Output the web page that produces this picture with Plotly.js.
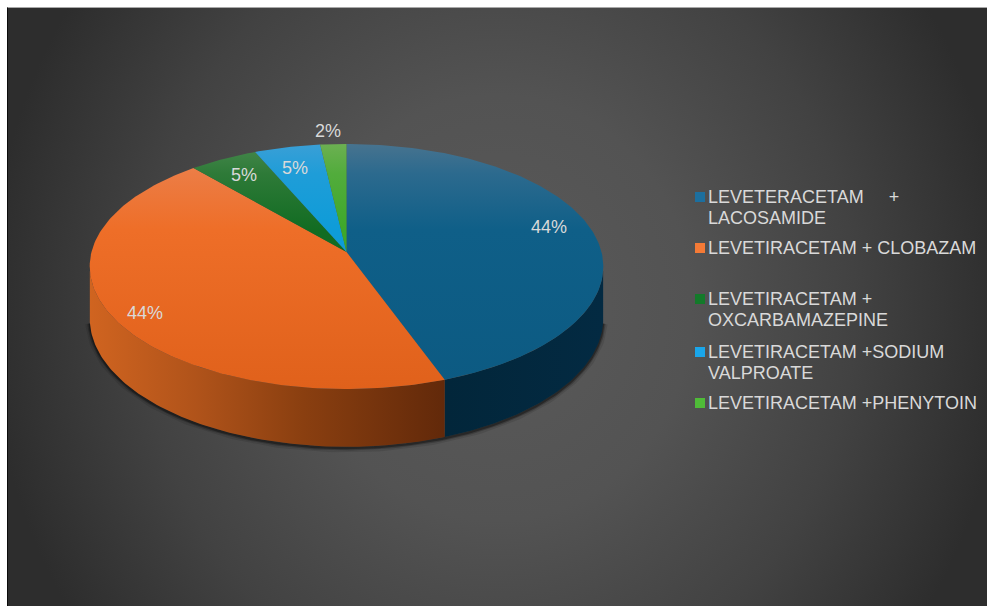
<!DOCTYPE html>
<html>
<head>
<meta charset="utf-8">
<script src="https://cdn.plot.ly/plotly-3.0.1.min.js"></script>
<style>
  html, body { margin: 0; padding: 0; background: #fff; }
  #panel {
    position: absolute; left: 7px; top: 7px; width: 980px; height: 599px;
    box-sizing: border-box;
    border-left: 1px solid #0c0c0c; border-top: 1px solid #a8a8a8;
    background: radial-gradient(ellipse 510px 560px at 490px 300px, #5a5a5a 0%, #535353 38%, #424242 70%, #2d2d2d 100%);
  }
  #chart { position: absolute; left: 0; top: 0; width: 987px; height: 606px; }
</style>
</head>
<body>
<div id="panel"></div>
<div id="chart"></div>
<script>
// Anti-epileptic drug combinations and their share of patients, in percent.
const categories = ['LEVETERACETAM + LACOSAMIDE', 'LEVETIRACETAM + CLOBAZAM', 'LEVETIRACETAM + OXCARBAMAZEPINE', 'LEVETIRACETAM +SODIUM VALPROATE', 'LEVETIRACETAM +PHENYTOIN'];
const shares = [44, 44, 5, 5, 2];

// Legend wording, wrapped the way it is set on the page (one list per entry).
const legendLines = [
  ['LEVETERACETAM\u00a0\u00a0\u00a0\u00a0\u00a0+', 'LACOSAMIDE'],
  ['LEVETIRACETAM + CLOBAZAM'],
  ['LEVETIRACETAM +', 'OXCARBAMAZEPINE'],
  ['LEVETIRACETAM +SODIUM', 'VALPROATE'],
  ['LEVETIRACETAM +PHENYTOIN']
];
const legendTop = [197, 248, 299, 352, 403];
const legendLineGap = 20.5;
const labelX = [549, 145, 244, 295, 328];
const labelY = [227, 313, 175, 168, 131];

// Top-face colours run from the bevel highlight at the back to the base colour.
const topColors = [
  [[0, '#47738f'], [0.12, '#2c6a8e'], [0.35, '#0f5f88'], [1, '#0c5a82']],
  [[0, '#f08a57'], [0.12, '#ec7c44'], [0.35, '#ee6e28'], [1, '#e0611b']],
  [[0, '#47884d'], [0.12, '#2e7a38'], [0.35, '#126c22'], [1, '#0f6a20']],
  [[0, '#3a9fd6'], [0.12, '#1f9dd8'], [0.35, '#0e9cd8'], [1, '#0e9cd8']],
  [[0, '#6cb052'], [0.12, '#52ac3c'], [0.35, '#3ea82a'], [1, '#3ea82a']]
];
const wallColors = {
  0: [[0, '#02263a'], [1, '#032a42']],
  1: [[0, '#d06420'], [0.3, '#b0531a'], [0.6, '#8a3f10'], [1, '#62290a']]
};
const swatchColors = ['#1c6f9f', '#f47a36', '#137a2a', '#1aa6ea', '#4fbb38'];

// Projection of the flat disc onto the page: tilted, with mild perspective.
const cx = 346.5, cy = 252, halfW = 255, halfH = 120.8, persp = 0.118, squeeze = 0.92, depth = 51;

function rim(turnDeg, drop) {
  const t = turnDeg * Math.PI / 180;
  const a = Math.atan2(squeeze * Math.sin(t), Math.cos(t));
  const w = 1 + persp * Math.cos(a);
  return [cx + halfW * Math.sin(a) / w, cy - halfH * Math.cos(a) / w + drop / w];
}
function arc(from, to, drop) {
  const n = Math.max(2, Math.ceil(Math.abs(to - from)));
  const xs = [], ys = [];
  for (let i = 0; i <= n; i++) {
    const p = rim(from + (to - from) * i / n, drop);
    xs.push(p[0]); ys.push(p[1]);
  }
  return [xs, ys];
}

const total = shares.reduce((s, v) => s + v, 0);
let running = 0;
const slices = shares.map(v => {
  const s = { from: running * 360 / total, to: (running + v) * 360 / total };
  running += v;
  return s;
});

// Only the front of the disc shows a wall; these are its outer turning points.
const wallEdgeRight = 98, wallEdgeLeft = 262;
const traces = [];

// Soft contact shadow along the underside.
const under = arc(wallEdgeRight, wallEdgeLeft, depth + 1);
[[9, 'rgba(0,0,0,0.10)'], [5, 'rgba(0,0,0,0.20)'], [2.5, 'rgba(0,0,0,0.35)']].forEach(s => {
  traces.push({ x: under[0], y: under[1], mode: 'lines', line: { color: s[1], width: s[0] }, hoverinfo: 'skip', showlegend: false });
});

// Walls for the two slices that reach the front of the disc.
[0, 1].forEach(i => {
  const from = i === 0 ? wallEdgeRight : slices[1].from;
  const to = i === 0 ? slices[0].to : wallEdgeLeft;
  const upper = arc(from, to, 0), lower = arc(to, from, depth);
  const xs = upper[0].concat(lower[0]), ys = upper[1].concat(lower[1]);
  traces.push({
    x: xs, y: ys, mode: 'lines', line: { width: 0 }, fill: 'toself',
    fillgradient: { type: 'horizontal', colorscale: wallColors[i] },
    hoverinfo: 'skip', showlegend: false
  });
});

// Top faces.
slices.forEach((s, i) => {
  const r = arc(s.from, s.to, 0);
  traces.push({
    x: [cx].concat(r[0], [cx]), y: [cy].concat(r[1], [cy]),
    mode: 'lines', line: { width: 0 }, fill: 'toself',
    fillgradient: { type: 'vertical', colorscale: topColors[i], start: 144, stop: 390 },
    name: categories[i], text: categories[i] + ': ' + shares[i] + '%', hoverinfo: 'text', showlegend: false
  });
});

// Legend keys.
traces.push({
  x: legendTop.map(() => 700), y: legendTop, mode: 'markers',
  marker: { symbol: 'square', size: 10, color: swatchColors },
  hoverinfo: 'skip', showlegend: false
});

const textFont = { family: 'Liberation Sans, Arial, sans-serif', size: 18, color: '#d9d9d9' };
const annotations = [];
shares.forEach((v, i) => {
  annotations.push({ x: labelX[i], y: labelY[i], text: v + '%', showarrow: false, font: textFont, xanchor: 'center', yanchor: 'middle' });
});
legendLines.forEach((lines, i) => {
  lines.forEach((line, j) => {
    annotations.push({ x: 708, y: legendTop[i] + j * legendLineGap, text: line, showarrow: false, font: textFont, xanchor: 'left', yanchor: 'middle', xshift: -2 });
  });
});

Plotly.newPlot('chart', traces, {
  width: 987, height: 606,
  margin: { l: 0, r: 0, t: 0, b: 0 },
  paper_bgcolor: 'rgba(0,0,0,0)', plot_bgcolor: 'rgba(0,0,0,0)',
  xaxis: { range: [0, 987], visible: false, fixedrange: true },
  yaxis: { range: [606, 0], visible: false, fixedrange: true },
  annotations: annotations,
  showlegend: false
}, { displayModeBar: false, responsive: false });
</script>
</body>
</html>
